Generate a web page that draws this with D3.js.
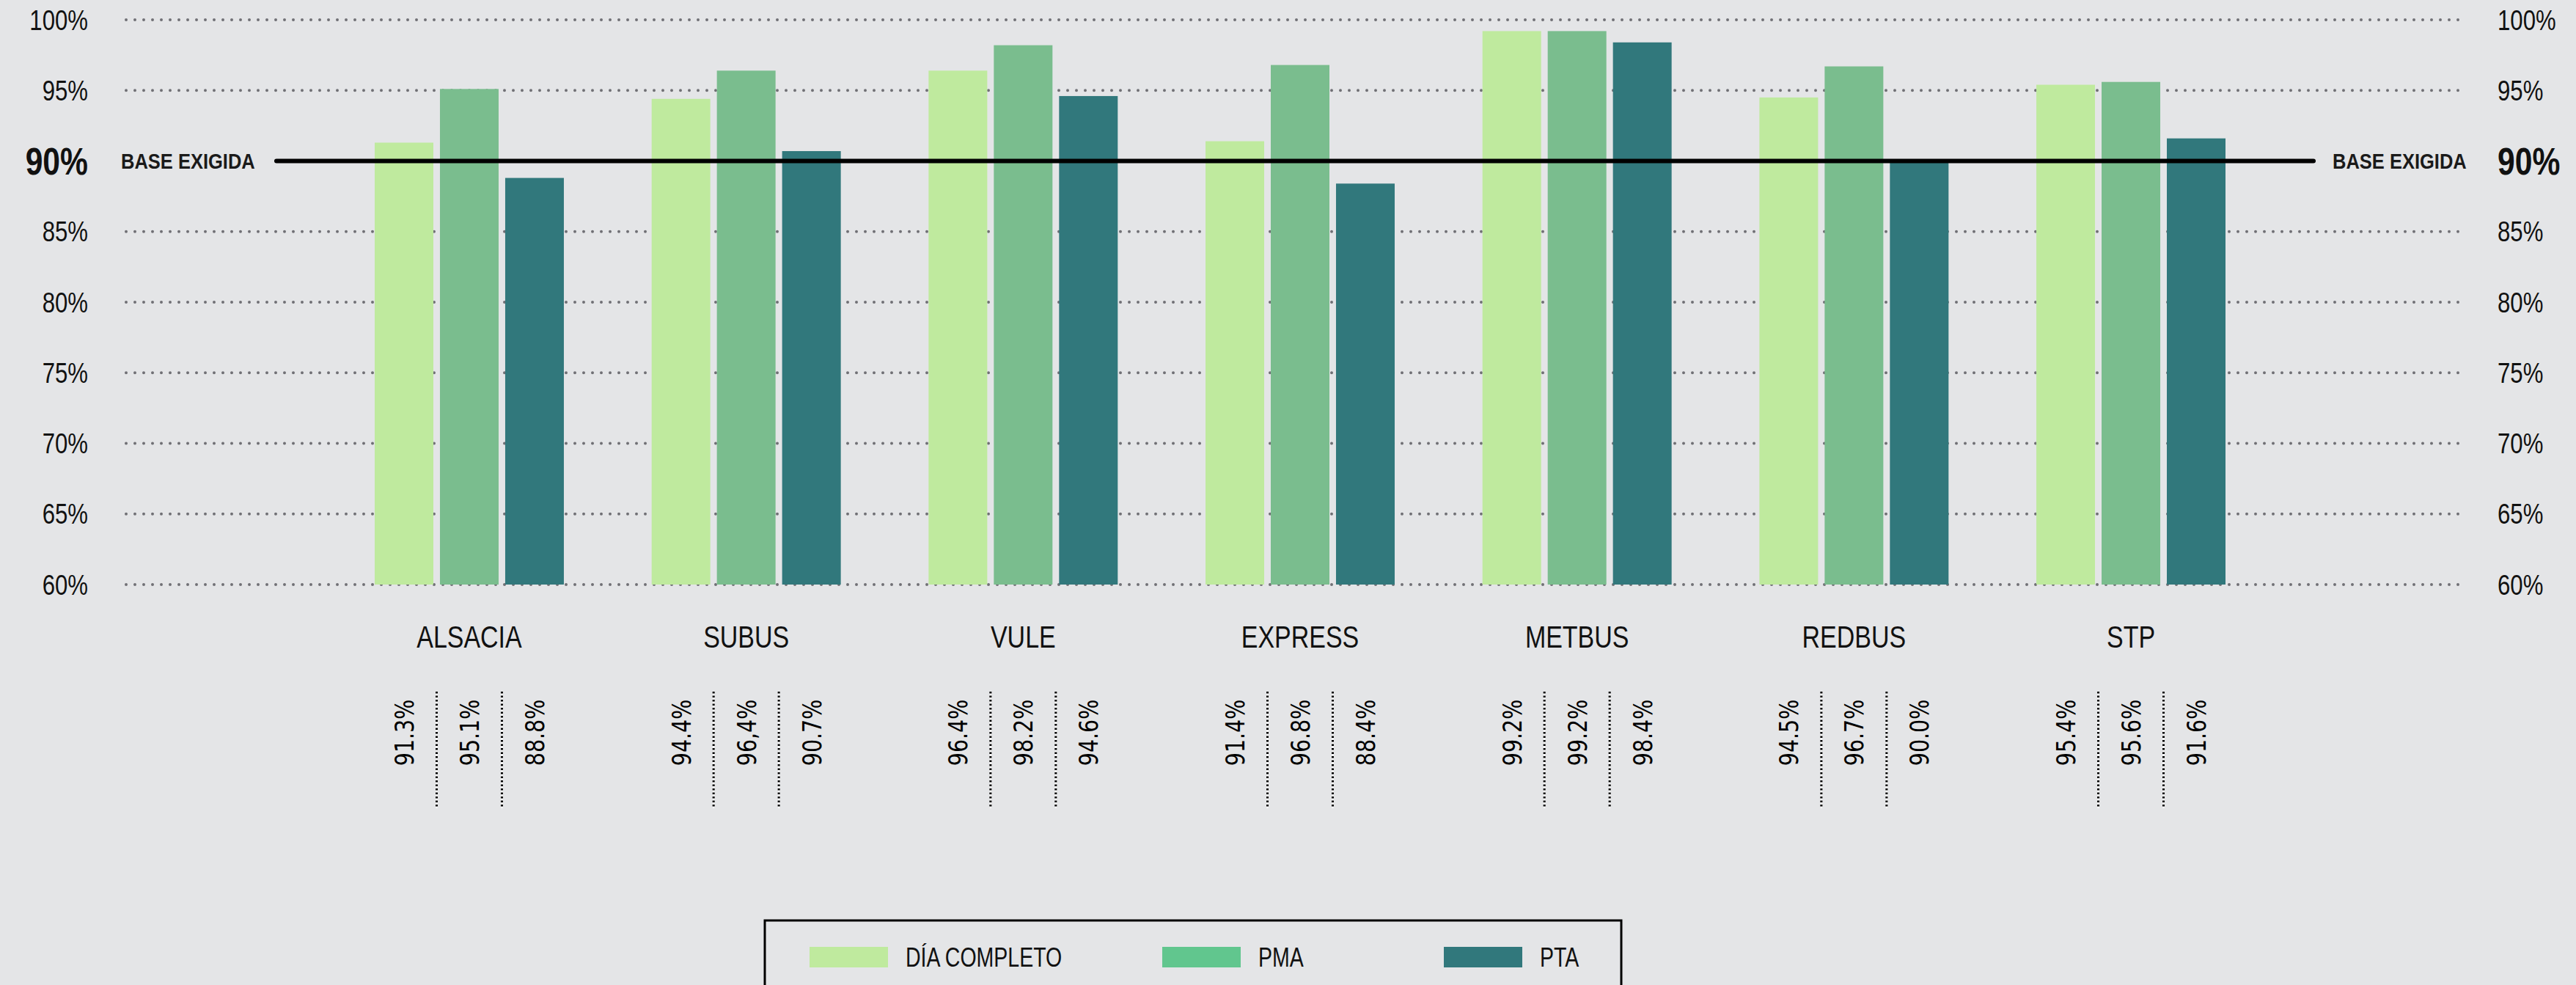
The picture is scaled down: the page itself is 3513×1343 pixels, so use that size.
<!DOCTYPE html>
<html>
<head>
<meta charset="utf-8">
<script src="https://cdn.jsdelivr.net/npm/d3@7"></script>
<style>
  html, body { margin: 0; padding: 0; background: #e4e5e7; }
  svg { display: block; }
</style>
</head>
<body>
<svg></svg>
<script>
const operators = ["ALSACIA", "SUBUS", "VULE", "EXPRESS", "METBUS", "REDBUS", "STP"];
const series = ["DÍA COMPLETO", "PMA", "PTA"];
const diaCompleto = [91.3, 94.4, 96.4, 91.4, 99.2, 94.5, 95.4];
const pma = [95.1, 96.4, 98.2, 96.8, 99.2, 96.7, 95.6];
const pta = [88.8, 90.7, 94.6, 88.4, 98.4, 90.0, 91.6];
// printed values, as they appear under each bar (one uses a comma)
const diaLabels = ["91.3%", "94.4%", "96.4%", "91.4%", "99.2%", "94.5%", "95.4%"];
const pmaLabels = ["95.1%", "96,4%", "98.2%", "96.8%", "99.2%", "96.7%", "95.6%"];
const ptaLabels = ["88.8%", "90.7%", "94.6%", "88.4%", "98.4%", "90.0%", "91.6%"];
const yTicks = [60, 65, 70, 75, 80, 85, 90, 95, 100];
const baseExigida = 90;

const width = 3513, height = 1343;
const barColors = ["#bfea9e", "#7abd8e", "#31787c"];
const legendColors = ["#bfea9e", "#61c68e", "#31787c"];
// no narrow face installed, so squeeze Liberation Sans horizontally
const narrowFont = "'Liberation Sans', Arial, sans-serif";

const values = [diaCompleto, pma, pta];
const labels = [diaLabels, pmaLabels, ptaLabels];
const rows = operators.map((op, i) => ({
  op,
  bars: series.map((s, j) => ({ s, v: values[j][i], label: labels[j][i] }))
}));

const svg = d3.select("svg")
  .attr("width", width)
  .attr("height", height)
  .attr("viewBox", [0, 0, width, height]);

svg.append("rect").attr("width", width).attr("height", height).attr("fill", "#e4e5e7");

const x0 = d3.scaleBand().domain(operators).range([511, 3035]).paddingInner(0.317).paddingOuter(0);
const x1 = d3.scaleBand().domain(series).range([0, x0.bandwidth()]).paddingInner(0.101).paddingOuter(0);
const y = d3.scaleLinear().domain([60, 100]).range([797, 27]);
const color = d3.scaleOrdinal(series, barColors);

const squeeze = (x, yy, k) => `translate(${x},${yy}) scale(${k},1)`;

// dotted grid (90% is replaced by the black base line)
svg.append("g")
  .selectAll("line")
  .data(yTicks.filter(d => d !== baseExigida))
  .join("line")
  .attr("x1", 172).attr("x2", 3362)
  .attr("y1", d => y(d)).attr("y2", d => y(d))
  .attr("stroke", "#707075")
  .attr("stroke-width", 4)
  .attr("stroke-linecap", "round")
  .attr("stroke-dasharray", "0,12");

// tick labels, both sides
const tickG = svg.append("g").style("font-family", narrowFont).attr("fill", "#111");
[["left", 120, "end"], ["right", 3406, "start"]].forEach(([cls, tx, anchor]) => {
  tickG.selectAll("text." + cls)
    .data(yTicks)
    .join("text")
    .attr("class", cls)
    .attr("transform", d => squeeze(tx, y(d), 0.82))
    .attr("dy", "0.36em")
    .attr("text-anchor", anchor)
    .style("font-size", d => d === baseExigida ? "52px" : "38px")
    .style("font-weight", d => d === baseExigida ? "bold" : "normal")
    .text(d => d + "%");
});

// bars
const group = svg.append("g")
  .selectAll("g")
  .data(rows)
  .join("g")
  .attr("transform", d => `translate(${x0(d.op)},0)`);

group.selectAll("rect")
  .data(d => d.bars)
  .join("rect")
  .attr("x", d => x1(d.s))
  .attr("width", x1.bandwidth())
  .attr("y", d => y(d.v))
  .attr("height", d => y(60) - y(d.v))
  .attr("fill", d => color(d.s));

// base line
svg.append("line")
  .attr("x1", 377).attr("x2", 3155)
  .attr("y1", y(baseExigida)).attr("y2", y(baseExigida))
  .attr("stroke", "#000")
  .attr("stroke-width", 6)
  .attr("stroke-linecap", "round");

svg.selectAll("text.base")
  .data([165, 3181])
  .join("text")
  .attr("class", "base")
  .attr("transform", d => squeeze(d, y(baseExigida), 0.85))
  .attr("dy", "0.36em")
  .style("font-family", narrowFont)
  .style("font-weight", "bold")
  .style("font-size", "30px")
  .attr("fill", "#1a1a1a")
  .text("BASE EXIGIDA");

// category names
svg.append("g")
  .selectAll("text")
  .data(operators)
  .join("text")
  .attr("transform", d => squeeze(x0(d) + x0.bandwidth() / 2, 883, 0.79))
  .attr("text-anchor", "middle")
  .style("font-family", narrowFont)
  .style("font-size", "43px")
  .attr("fill", "#111")
  .text(d => d);

// value row under the axis
const valueG = svg.append("g")
  .selectAll("g")
  .data(rows)
  .join("g")
  .attr("transform", d => `translate(${x0(d.op)},0)`);

valueG.selectAll("text")
  .data(d => d.bars)
  .join("text")
  .attr("transform", d => `translate(${x1(d.s) + x1.bandwidth() / 2},999) rotate(-90) scale(0.88,1)`)
  .attr("text-anchor", "middle")
  .attr("dy", "0.36em")
  .style("font-family", "'DejaVu Sans Condensed', 'DejaVu Sans', sans-serif")
  .style("font-size", "36px")
  .attr("fill", "#000")
  .text(d => d.label);

// dotted separators between the printed values
const sepX = d => series.slice(1).map(s => x1(s) - (x1.step() - x1.bandwidth()) / 2);
valueG.selectAll("line.sepw")
  .data(sepX)
  .join("line")
  .attr("class", "sepw")
  .attr("x1", d => d).attr("x2", d => d)
  .attr("y1", 943).attr("y2", 1102)
  .attr("stroke", "#fff")
  .attr("stroke-width", 2);
valueG.selectAll("line.sepb")
  .data(sepX)
  .join("line")
  .attr("class", "sepb")
  .attr("x1", d => d).attr("x2", d => d)
  .attr("y1", 943).attr("y2", 1102)
  .attr("stroke", "#000")
  .attr("stroke-width", 3)
  .attr("stroke-dasharray", "2.5,3");

// legend
const legend = svg.append("g");
legend.append("rect")
  .attr("x", 1043).attr("y", 1255)
  .attr("width", 1168).attr("height", 120)
  .attr("fill", "none")
  .attr("stroke", "#000")
  .attr("stroke-width", 3);

const legendX = d3.scaleOrdinal(series, [1104, 1585, 1969]);
const item = legend.selectAll("g")
  .data(series)
  .join("g")
  .attr("transform", d => `translate(${legendX(d)},1291)`);
item.append("rect")
  .attr("width", 107)
  .attr("height", 28)
  .attr("fill", (d, i) => legendColors[i]);
item.append("text")
  .attr("transform", squeeze(131, 14, 0.77))
  .attr("dy", "0.36em")
  .style("font-family", narrowFont)
  .style("font-size", "37px")
  .attr("fill", "#111")
  .text(d => d);
</script>
</body>
</html>
